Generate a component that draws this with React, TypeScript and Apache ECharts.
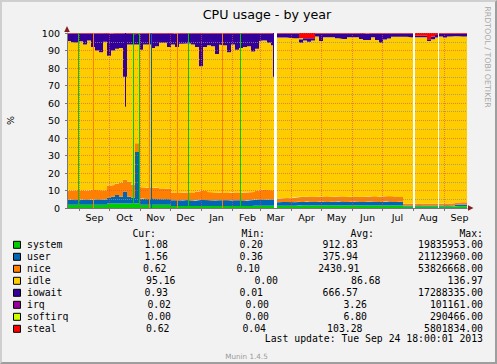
import React, { useEffect, useRef } from "react";
import * as echarts from "echarts";

const DAY = 86400000;
const START = Date.UTC(2012, 7, 19, 12);
const SPAN_DAYS = 400;
const BIN_DAYS = 4;

// per-bin values (4-day bins), percent
const system = [
  1.8, 1.8, 1.8, 1.8, 1.8, 1.8, 1.8, 1.8, 1.8, 1.8,
  2.6, 2.6, 2.6, 2.6, 2.6, 2.6, 2.6, 2.6, 1.8, 1.8,
  1.8, 1.8, 1.8, 1.8, 1.8, 1.8, 1.2, 1.2, 1.2, 1.2,
  1.2, 1.2, 1.2, 1.2, 1.2, 1.2, 1.2, 1.2, 1.2, 1.2,
  1.2, 1.2, 1.2, 1.2, 1.2, 1.2, 1.2, 1.3, 1.3, 1.3,
  1.3, 1.3, 1.3, 1.3, 1.3, 1.3, 1.3, 1.3, 1.4, 1.4,
  1.4, 1.4, 1.4, 1.4, 1.4, 1.4, 1.4, 1.4, 1.4, 1.4,
  1.4, 1.4, 1.4, 1.4, 1.4, 1.4, 1.4, 1.4, 1.4, 1.4,
  1.4, 1.4, 1.4, 1.4, 0.9, 0.9, 0.9, 0.9, 0.9, 0.9,
  0.9, 0.9, 0.9, 0.9, 0.9, 0.9, 0.9, 1.0, 1.0, 1.0,
];
const user = [
  2.8, 3.0, 2.7, 2.9, 3.1, 2.8, 3.0, 3.2, 2.9, 3.0,
  3.4, 3.9, 4.9, 3.9, 6.9, 3.9, 3.4, 29.4, 3.4, 3.6,
  3.2, 3.8, 3.4, 3.2, 3.4, 3.2, 3.2, 3.3, 3.1, 3.4,
  3.2, 3.0, 3.3, 3.5, 3.4, 3.2, 3.1, 3.3, 3.2, 3.4,
  3.1, 3.2, 3.3, 3.2, 3.0, 3.3, 3.4, 3.5, 3.6, 3.4,
  3.5, 3.6, 2.0, 2.1, 2.2, 2.1, 2.0, 2.1, 2.2, 2.1,
  2.3, 2.2, 2.0, 2.2, 2.3, 2.1, 2.2, 2.2, 2.4, 2.2,
  2.1, 2.2, 2.3, 2.2, 2.0, 2.2, 2.3, 2.2, 2.1, 2.2,
  2.4, 2.2, 2.1, 2.2, 0.6, 0.5, 0.6, 0.7, 0.6, 0.5,
  0.6, 0.6, 0.5, 0.6, 0.7, 0.6, 0.6, 1.0, 1.0, 1.0,
];
const nice = [
  5.2, 5.2, 5.7, 5.3, 5.0, 5.5, 5.7, 5.3, 5.3, 5.4,
  6.8, 6.7, 6.3, 8.0, 6.7, 8.5, 7.5, 5.0, 6.6, 6.2,
  6.8, 5.9, 6.5, 6.2, 5.8, 6.2, 4.4, 4.4, 4.4, 4.2,
  4.6, 4.7, 4.9, 5.1, 5.1, 4.8, 4.5, 4.2, 4.5, 4.2,
  4.3, 4.4, 4.4, 4.3, 4.6, 4.5, 4.5, 5.2, 5.4, 5.7,
  5.4, 5.2, 2.2, 2.2, 2.2, 2.2, 2.5, 2.8, 2.8, 3.0,
  2.9, 2.9, 3.0, 3.0, 3.0, 3.0, 2.9, 3.0, 2.9, 2.9,
  2.9, 3.0, 2.8, 2.8, 3.1, 3.0, 3.1, 2.9, 3.1, 3.1,
  3.0, 3.0, 3.2, 2.7, 1.0, 1.0, 1.0, 1.0, 1.0, 1.0,
  1.0, 1.0, 1.0, 1.0, 1.0, 1.1, 1.2, 1.2, 1.3, 1.3,
];
const idle = [
  85.7, 84.8, 84.4, 85.3, 83.6, 85.6, 81.5, 79.7, 79.0, 84.8,
  74.2, 76.8, 77.2, 77.0, 58.8, 78.5, 79.9, 56.4, 78.7, 81.8,
  81.6, 80.0, 80.8, 83.3, 83.5, 80.8, 84.7, 83.1, 85.1, 85.0,
  85.0, 84.6, 82.6, 71.2, 82.3, 83.8, 83.7, 79.3, 84.5, 84.2,
  80.4, 84.7, 81.6, 82.8, 83.2, 83.5, 80.4, 81.0, 85.2, 85.3,
  84.3, 82.9, 92.0, 91.9, 91.8, 91.9, 91.4, 90.8, 88.1, 89.2,
  88.4, 89.2, 91.6, 88.9, 90.9, 91.1, 91.1, 90.4, 90.3, 90.1,
  91.2, 91.0, 91.1, 90.2, 89.5, 89.4, 90.8, 89.5, 87.9, 89.6,
  90.0, 91.2, 91.1, 91.5, 95.3, 95.4, 95.1, 95.0, 95.1, 95.2,
  93.0, 94.0, 95.1, 95.5, 94.9, 95.4, 95.3, 94.9, 94.8, 94.7,
];
const iowait = [
  4.2, 4.9, 5.1, 4.4, 6.2, 4.0, 7.7, 9.7, 10.7, 4.7,
  12.4, 9.7, 8.7, 8.2, 24.7, 6.2, 6.3, 5.9, 9.2, 6.3,
  6.3, 8.2, 7.2, 5.2, 5.2, 7.7, 5.9, 7.7, 5.9, 5.9,
  5.7, 6.2, 7.7, 18.7, 7.7, 6.7, 7.2, 11.7, 6.3, 6.7,
  10.7, 6.2, 9.2, 8.2, 7.7, 7.2, 10.2, 8.7, 4.2, 4.0,
  5.2, 6.7, 2.2, 2.2, 2.2, 2.2, 2.5, 2.7, 2.0, 1.3,
  2.0, 1.3, 1.7, 4.2, 2.1, 2.1, 2.1, 2.7, 2.7, 3.1,
  2.1, 2.1, 2.1, 3.1, 3.4, 3.7, 2.1, 3.7, 5.2, 3.4,
  2.9, 1.9, 1.9, 1.9, 1.9, 1.9, 2.1, 0.9, 0.9, 0.9,
  1.0, 1.5, 1.3, 1.6, 2.1, 1.6, 1.6, 1.5, 1.5, 1.6,
];
const irq = [
  0, 0, 0, 0, 0, 0, 0, 0, 0, 0,
  0.3, 0, 0, 0, 0, 0, 0, 0, 0, 0,
  0, 0, 0, 0, 0, 0, 0.3, 0, 0, 0,
  0, 0, 0, 0, 0, 0, 0, 0, 0, 0,
  0, 0, 0, 0, 0, 0, 0, 0, 0, 0,
  0, 0, 0, 0, 0, 0, 0, 0, 0, 0,
  0, 0, 0, 0, 0, 0, 0, 0, 0, 0,
  0, 0, 0, 0, 0.3, 0, 0, 0, 0, 0,
  0, 0, 0, 0, 0, 0, 0, 0, 0, 0,
  0, 0, 0, 0, 0, 0, 0, 0, 0, 0,
];
const softirq = [
  0, 0, 0, 0, 0, 0, 0, 0, 0, 0,
  0, 0, 0, 0, 0, 0, 0, 0.4, 0, 0,
  0, 0, 0, 0, 0, 0, 0, 0, 0, 0,
  0, 0, 0, 0, 0, 0, 0, 0, 0, 0,
  0, 0, 0, 0, 0, 0, 0, 0, 0, 0,
  0, 0, 0, 0, 0, 0, 0, 0, 0.5, 0,
  0, 0, 0, 0, 0, 0, 0, 0, 0, 0,
  0, 0, 0, 0, 0, 0, 0, 0, 0, 0,
  0, 0, 0, 0, 0, 0, 0, 0, 0, 0,
  0, 0, 0, 0, 0, 0, 0, 0, 0, 0,
];
const steal = [
  0.3, 0.3, 0.3, 0.3, 0.3, 0.3, 0.3, 0.3, 0.3, 0.3,
  0.3, 0.3, 0.3, 0.3, 0.3, 0.3, 0.3, 0.3, 0.3, 0.3,
  0.3, 0.3, 0.3, 0.3, 0.3, 0.3, 0.3, 0.3, 0.3, 0.3,
  0.3, 0.3, 0.3, 0.3, 0.3, 0.3, 0.3, 0.3, 0.3, 0.3,
  0.3, 0.3, 0.3, 0.3, 0.3, 0.3, 0.3, 0.3, 0.3, 0.3,
  0.3, 0.3, 0.3, 0.3, 0.3, 0.3, 0.3, 0.3, 3.0, 3.0,
  3.0, 3.0, 0.3, 0.3, 0.3, 0.3, 0.3, 0.3, 0.3, 0.3,
  0.3, 0.3, 0.3, 0.3, 0.3, 0.3, 0.3, 0.3, 0.3, 0.3,
  0.3, 0.3, 0.3, 0.3, 0.3, 0.3, 0.3, 1.5, 1.5, 1.5,
  3.5, 2.0, 1.2, 0.4, 0.4, 0.4, 0.4, 0.4, 0.4, 0.4,
];

const seriesNames = ["system", "user", "nice", "idle", "iowait", "irq", "softirq", "steal"];
const seriesColors = ["#00CC00", "#0066B3", "#FF8000", "#FFCC00", "#330099", "#990099", "#CCFF00", "#FF0000"];
const seriesValues = [system, user, nice, idle, iowait, irq, softirq, steal];

// single-sample spikes (counter wraps): [day offset, series index]
const fullSpikes: [number, number][] = [
  [11.5, 0], [26.5, 2], [66.5, 0], [72.5, 0], [82.5, 2],
  [84.5, 1], [110.5, 2], [121.5, 0], [155.5, 2], [173.5, 0],
];
// narrow iowait peaks: [day offset, lower value, series index]
const partialSpikes: [number, number, number][] = [
  [58.5, 57.9, 4],
  [206.5, 75, 4],
];
// missing data: [day offset of centre, width in days]
const gaps: [number, number][] = [
  [208.5, 3],
  [347, 2],
  [371.5, 1],
];

const monthLabels = ["Sep", "Oct", "Nov", "Dec", "Jan", "Feb", "Mar", "Apr", "May", "Jun", "Jul", "Aug", "Sep"];
const yTickLabels = ["0", "10", "20", "30", "40", "50", "60", "70", "80", "90", "100"];

const curValues = ["1.08", "1.56", "0.62", "95.16", "0.93", "0.02", "0.00", "0.62"];
const minValues = ["0.20", "0.36", "0.10", "0.00", "0.01", "0.00", "0.00", "0.04"];
const avgValues = ["912.83", "375.94", "2430.91", "86.68", "666.57", "3.26", "6.80", "103.28"];
const maxValues = ["19835953.00", "21123960.00", "53826668.00", "136.97", "17288335.00", "101161.00", "290466.00", "5801834.00"];

const TITLE = "CPU usage - by year";
const LAST_UPDATE = "Last update: Tue Sep 24 18:00:01 2013";

export default function App() {
  const ref = useRef<HTMLDivElement>(null);

  useEffect(() => {
    if (!ref.current) return;
    const chart = echarts.init(ref.current, null, { renderer: "svg" });

    const toData = (vals: number[]) => {
      const pts: [number, number][] = vals.map((v, i) => [START + i * BIN_DAYS * DAY, v]);
      pts.push([START + SPAN_DAYS * DAY, vals[vals.length - 1]]);
      return pts;
    };

    const monthStarts = monthLabels.map((_, k) => (Date.UTC(2012, 8 + k, 1) - START) / DAY);
    const monthMids = monthLabels.map((_, k) => (Date.UTC(2012, 8 + k, 16) - START) / DAY);

    const markData: any[] = [];
    monthStarts.forEach((d) =>
      markData.push({ xAxis: d, lineStyle: { color: "rgba(222,79,79,0.6)", type: "dotted", width: 1 } })
    );
    fullSpikes.forEach(([d, s]) =>
      markData.push({ xAxis: d, lineStyle: { color: seriesColors[s], type: "solid", width: 1 } })
    );
    partialSpikes.forEach(([d, lo, s]) =>
      markData.push([
        { coord: [d, lo], lineStyle: { color: seriesColors[s], type: "solid", width: 1 } },
        { coord: [d, 100], lineStyle: { color: seriesColors[s], type: "solid", width: 1 } },
      ])
    );
    gaps.forEach(([d, w]) =>
      markData.push({ xAxis: d, lineStyle: { color: "#FFFFFF", type: "solid", width: w } })
    );

    const series: any[] = seriesNames.map((name, i) => ({
      type: "line",
      name,
      stack: "cpu",
      step: "end",
      xAxisIndex: 0,
      yAxisIndex: 0,
      data: toData(seriesValues[i]),
      symbol: "none",
      showSymbol: false,
      silent: true,
      lineStyle: { width: 0, color: seriesColors[i] },
      itemStyle: { color: seriesColors[i] },
      areaStyle: { color: seriesColors[i], opacity: 1 },
      z: 2,
    }));
    series.push({
      type: "line",
      name: "marks",
      xAxisIndex: 1,
      yAxisIndex: 0,
      data: [[0, 0]],
      symbol: "none",
      silent: true,
      lineStyle: { width: 0 },
      z: 4,
      markLine: {
        silent: true,
        symbol: ["none", "none"],
        label: { show: false },
        emphasis: { disabled: true },
        animation: false,
        data: markData,
      },
    });

    const mono = "DejaVu Sans Mono";
    const graphic: any[] = [];
    const txt = (x: number, y: number, text: string, opts: any = {}) => ({
      type: "text",
      x,
      y,
      rotation: opts.rotation || 0,
      silent: true,
      z: 100,
      style: {
        text,
        fill: opts.fill || "#000",
        fontSize: opts.fontSize || 9.8,
        fontFamily: opts.fontFamily || mono,
        align: opts.align || "left",
        verticalAlign: "middle",
      },
    });

    graphic.push(txt(267, 14, TITLE, { fontSize: 12.7, fontFamily: "DejaVu Sans", align: "center" }));
    graphic.push(txt(10.5, 120.5, "%", { fontSize: 9.5, fontFamily: "DejaVu Sans", align: "center", rotation: Math.PI / 2 }));
    graphic.push(
      txt(487.5, 57, "RRDTOOL / TOBI OETIKER", {
        fontSize: 7.9,
        fontFamily: "DejaVu Sans",
        align: "center",
        fill: "#A8A8A8",
        rotation: -Math.PI / 2,
      })
    );
    graphic.push({
      type: "polygon",
      silent: true,
      z: 100,
      shape: { points: [[64.2, 32], [69.8, 32], [67, 26]] },
      style: { fill: "#801F1F" },
    });
    graphic.push({
      type: "polygon",
      silent: true,
      z: 100,
      shape: { points: [[468, 205.2], [468, 210.8], [473.5, 208]] },
      style: { fill: "#801F1F" },
    });

    // legend header
    graphic.push(txt(156, 233.3, "Cur:", { align: "right" }));
    graphic.push(txt(265, 233.3, "Min:", { align: "right" }));
    graphic.push(txt(374, 233.3, "Avg:", { align: "right" }));
    graphic.push(txt(483, 233.3, "Max:", { align: "right" }));

    const CH = 6;
    seriesNames.forEach((name, k) => {
      const yc = 244.8 + 12 * k;
      graphic.push({
        type: "rect",
        silent: true,
        z: 100,
        shape: { x: 13.5, y: yc - 3.5, width: 7, height: 7 },
        style: { fill: seriesColors[k], stroke: "#000", lineWidth: 1 },
      });
      graphic.push(txt(27, yc, name));
      const wCur = Math.max(6, curValues[k].length) * CH;
      const wMin = Math.max(6, minValues[k].length) * CH;
      const wAvg = Math.max(6, avgValues[k].length) * CH;
      const wMax = Math.max(6, maxValues[k].length) * CH;
      const gap = (483 - 73 - (wCur + wMin + wAvg + wMax)) / 4;
      const curEnd = 73 + gap + wCur;
      const minEnd = curEnd + gap + wMin;
      const avgEnd = minEnd + gap + wAvg;
      graphic.push(txt(curEnd, yc, curValues[k], { align: "right" }));
      graphic.push(txt(minEnd, yc, minValues[k], { align: "right" }));
      graphic.push(txt(avgEnd, yc, avgValues[k], { align: "right" }));
      graphic.push(txt(483, yc, maxValues[k], { align: "right" }));
    });
    graphic.push(txt(483, 338.7, LAST_UPDATE, { align: "right" }));
    graphic.push(
      txt(246.5, 356, "Munin 1.4.5", { align: "center", fontFamily: "DejaVu Sans", fontSize: 7.2, fill: "#9A9A9A" })
    );

    const option: any = {
      animation: false,
      backgroundColor: "#F2F2F2",
      grid: {
        left: 67,
        top: 33,
        width: 400,
        height: 175,
        show: true,
        backgroundColor: "#FFFFFF",
        borderWidth: 0,
        containLabel: false,
        outerBoundsMode: "none",
      },
      xAxis: [
        {
          type: "time",
          show: false,
          min: START,
          max: START + SPAN_DAYS * DAY,
          axisLabel: { show: false },
          axisTick: { show: false },
          axisLine: { show: false },
          splitLine: { show: false },
        },
        {
          type: "value",
          position: "bottom",
          min: 0,
          max: SPAN_DAYS,
          z: 3,
          axisLine: { show: true, lineStyle: { color: "#777777", width: 1 } },
          axisTick: { show: true, customValues: monthStarts, length: 3, lineStyle: { color: "#777777" } },
          axisLabel: {
            customValues: monthMids,
            formatter: (v: number) => {
              let best = 0;
              monthMids.forEach((m, k) => {
                if (Math.abs(m - v) < Math.abs(monthMids[best] - v)) best = k;
              });
              return monthLabels[best];
            },
            color: "#000",
            fontFamily: "DejaVu Sans",
            fontSize: 9.5,
            margin: 4,
            hideOverlap: false,
          },
          splitLine: { show: false },
        },
      ],
      yAxis: {
        type: "value",
        min: 0,
        max: 100,
        interval: 10,
        z: 3,
        axisLine: { show: true, lineStyle: { color: "#777777", width: 1 } },
        axisTick: { show: true, length: 2, lineStyle: { color: "#777777" } },
        axisLabel: {
          color: "#000",
          fontFamily: "DejaVu Sans",
          fontSize: 9.5,
          margin: 7,
          formatter: (v: number) => yTickLabels[Math.round(v / 10)] ?? String(v),
        },
        splitLine: { show: true, lineStyle: { color: "rgba(222,79,79,0.6)", type: "dotted", width: 1 } },
        minorTick: { show: false, splitNumber: 2 },
        minorSplitLine: { show: true, lineStyle: { color: "rgba(143,143,143,0.75)", type: "dotted", width: 1 } },
      },
      series,
      graphic,
    };

    chart.setOption(option);
    return () => chart.dispose();
  }, []);

  return (
    <div style={{ position: "fixed", left: 0, top: 0, width: 497, height: 364 }}>
      <div ref={ref} style={{ position: "absolute", left: 0, top: 0, width: 497, height: 364 }} />
      <div
        style={{
          position: "absolute",
          left: 0,
          top: 0,
          width: 497,
          height: 364,
          boxSizing: "border-box",
          borderTop: "2px solid #CFCFCF",
          borderLeft: "2px solid #CFCFCF",
          borderBottom: "2px solid #9E9E9E",
          borderRight: "2px solid #9E9E9E",
          pointerEvents: "none",
        }}
      />
    </div>
  );
}
